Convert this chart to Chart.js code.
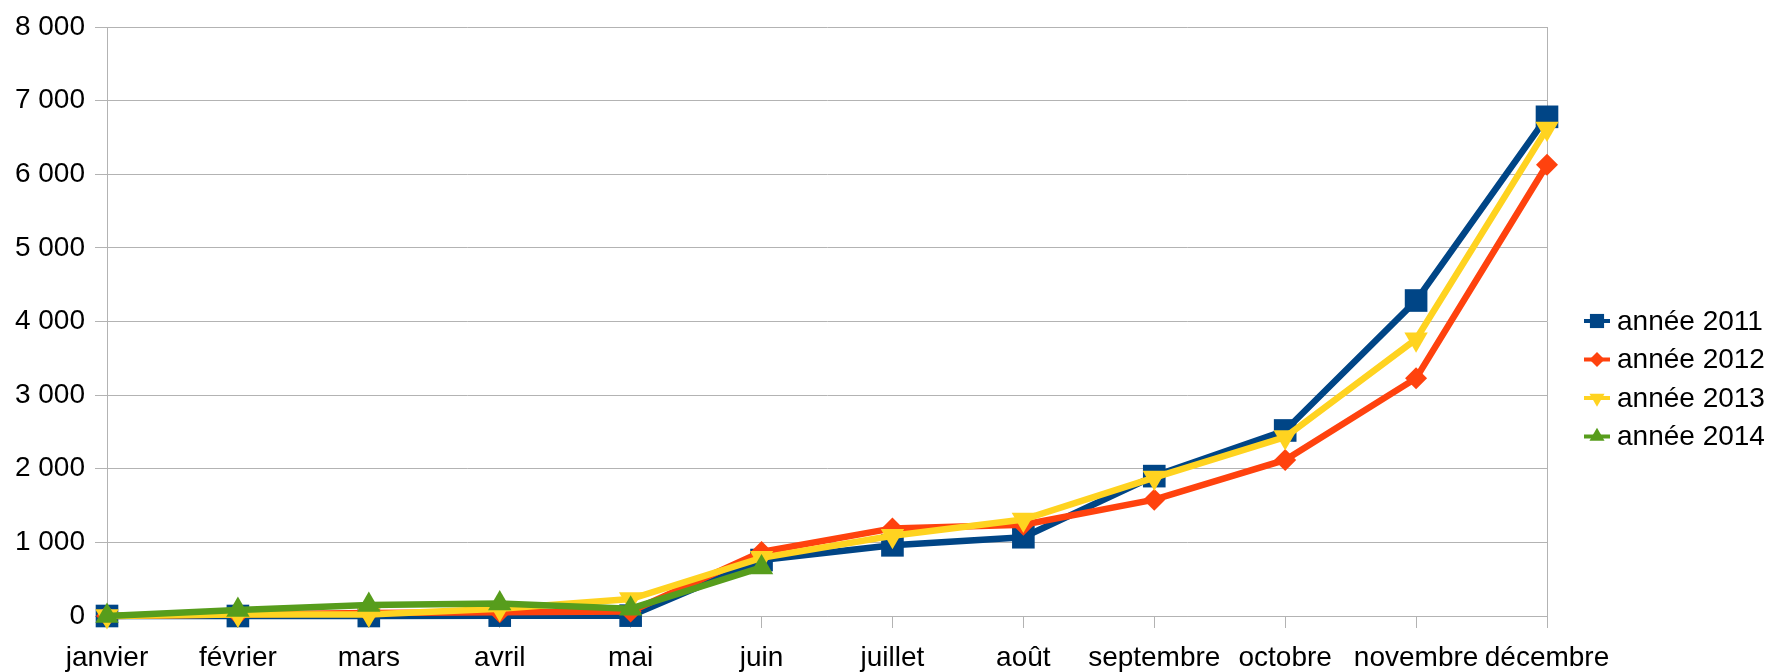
<!DOCTYPE html>
<html>
<head>
<meta charset="utf-8">
<script src="https://cdn.jsdelivr.net/npm/chart.js@4/dist/chart.umd.min.js"></script>
<style>
  html, body { margin: 0; padding: 0; background: #ffffff; }
  #wrap { width: 1771px; height: 672px; position: relative; }
</style>
</head>
<body>
<div id="wrap"><canvas id="c" width="1771" height="672"></canvas></div>
<script>
const categories = ['janvier', 'février', 'mars', 'avril', 'mai', 'juin', 'juillet', 'août', 'septembre', 'octobre', 'novembre', 'décembre'];
const seriesNames = ['année 2011', 'année 2012', 'année 2013', 'année 2014'];
const values2011 = [0, 0, 0, 5, 5, 760, 960, 1070, 1900, 2520, 4285, 6780];
const values2012 = [0, 20, 40, 50, 60, 870, 1190, 1240, 1580, 2120, 3230, 6130];
const values2013 = [0, 20, 20, 100, 230, 790, 1090, 1310, 1880, 2430, 3760, 6620];
const values2014 = [0, 80, 150, 170, 100, 660, null, null, null, null, null, null];
const yTickLabels = ['0', '1 000', '2 000', '3 000', '4 000', '5 000', '6 000', '7 000', '8 000'];

const colors = ['#004586', '#ff420e', '#ffd320', '#579d1c'];
const GRID = '#b3b3b3';

Chart.defaults.font.family = "'Liberation Sans', Arial, sans-serif";
Chart.defaults.font.size = 28;
Chart.defaults.color = '#000000';

function marker(ctx, style, x, y, r, rot) {
  ctx.beginPath();
  if (style === 'rect') {
    const s = Math.SQRT1_2 * r;
    ctx.rect(x - s, y - s, 2 * s, 2 * s);
  } else if (style === 'rectRot') {
    ctx.moveTo(x - r, y); ctx.lineTo(x, y - r); ctx.lineTo(x + r, y); ctx.lineTo(x, y + r);
  } else {
    let a = (rot || 0) * Math.PI / 180;
    for (let k = 0; k < 3; k++) {
      const px = x + Math.sin(a) * r, py = y - Math.cos(a) * r;
      if (k === 0) ctx.moveTo(px, py); else ctx.lineTo(px, py);
      a += 2 * Math.PI / 3;
    }
  }
  ctx.closePath();
  ctx.fill();
}

const legendPlugin = {
  id: 'sideLegend',
  afterDraw(chart) {
    const ctx = chart.ctx;
    ctx.save();
    const x0 = 1584, x1 = 1610, tx = 1617, y0 = 321, step = 38.5;
    const sizes = [10, 7.5, 8.7, 8.7];
    chart.data.datasets.forEach((ds, i) => {
      const y = y0 + i * step;
      ctx.strokeStyle = ds.borderColor;
      ctx.lineWidth = 4;
      ctx.beginPath(); ctx.moveTo(x0, y); ctx.lineTo(x1, y); ctx.stroke();
      ctx.fillStyle = ds.borderColor;
      marker(ctx, ds.pointStyle, (x0 + x1) / 2, y, sizes[i], ds.pointRotation);
      ctx.fillStyle = '#000000';
      ctx.font = "28px 'Liberation Sans', Arial, sans-serif";
      ctx.textAlign = 'left';
      ctx.textBaseline = 'middle';
      ctx.fillText(ds.label, tx, y + 1);
    });
    ctx.restore();
  }
};

function ds(i, data, style, radius, rot, order) {
  return {
    label: seriesNames[i],
    data: data,
    borderColor: colors[i],
    backgroundColor: colors[i],
    pointBackgroundColor: colors[i],
    pointBorderWidth: 0,
    pointStyle: style,
    pointRadius: radius,
    pointHoverRadius: radius,
    pointRotation: rot,
    borderWidth: 6.5,
    tension: 0,
    spanGaps: false,
    clip: false,
    order: order
  };
}

new Chart(document.getElementById('c'), {
  type: 'line',
  data: {
    labels: categories,
    datasets: [
      ds(0, values2011, 'rect', 16, 0, 4),
      ds(1, values2012, 'rectRot', 11, 0, 3),
      ds(2, values2013, 'triangle', 13.5, 180, 2),
      ds(3, values2014, 'triangle', 13.5, 0, 1)
    ]
  },
  options: {
    responsive: false,
    animation: false,
    devicePixelRatio: 1,
    layout: { padding: { top: 27, right: 224, bottom: 0, left: 0 } },
    plugins: { legend: { display: false }, tooltip: { enabled: false } },
    scales: {
      x: {
        offset: false,
        border: { display: true, color: GRID, width: 1 },
        grid: {
          display: true,
          drawOnChartArea: true,
          drawTicks: true,
          tickLength: 12,
          tickColor: GRID,
          color: (c) => (c.index === categories.length - 1 ? GRID : 'rgba(0,0,0,0)')
        },
        ticks: { padding: 13, maxRotation: 0, autoSkip: false, color: '#000000' },
        afterFit(scale) { scale.height = 56; }
      },
      y: {
        min: 0,
        max: 8000,
        border: { display: true, color: GRID, width: 1 },
        grid: { color: GRID, tickLength: 12, tickColor: GRID, drawTicks: true },
        ticks: {
          stepSize: 1000,
          padding: 10,
          color: '#000000',
          callback: (v, idx) => yTickLabels[idx]
        },
        afterFit(scale) { scale.width = 107; }
      }
    }
  },
  plugins: [legendPlugin]
});
</script>
</body>
</html>
